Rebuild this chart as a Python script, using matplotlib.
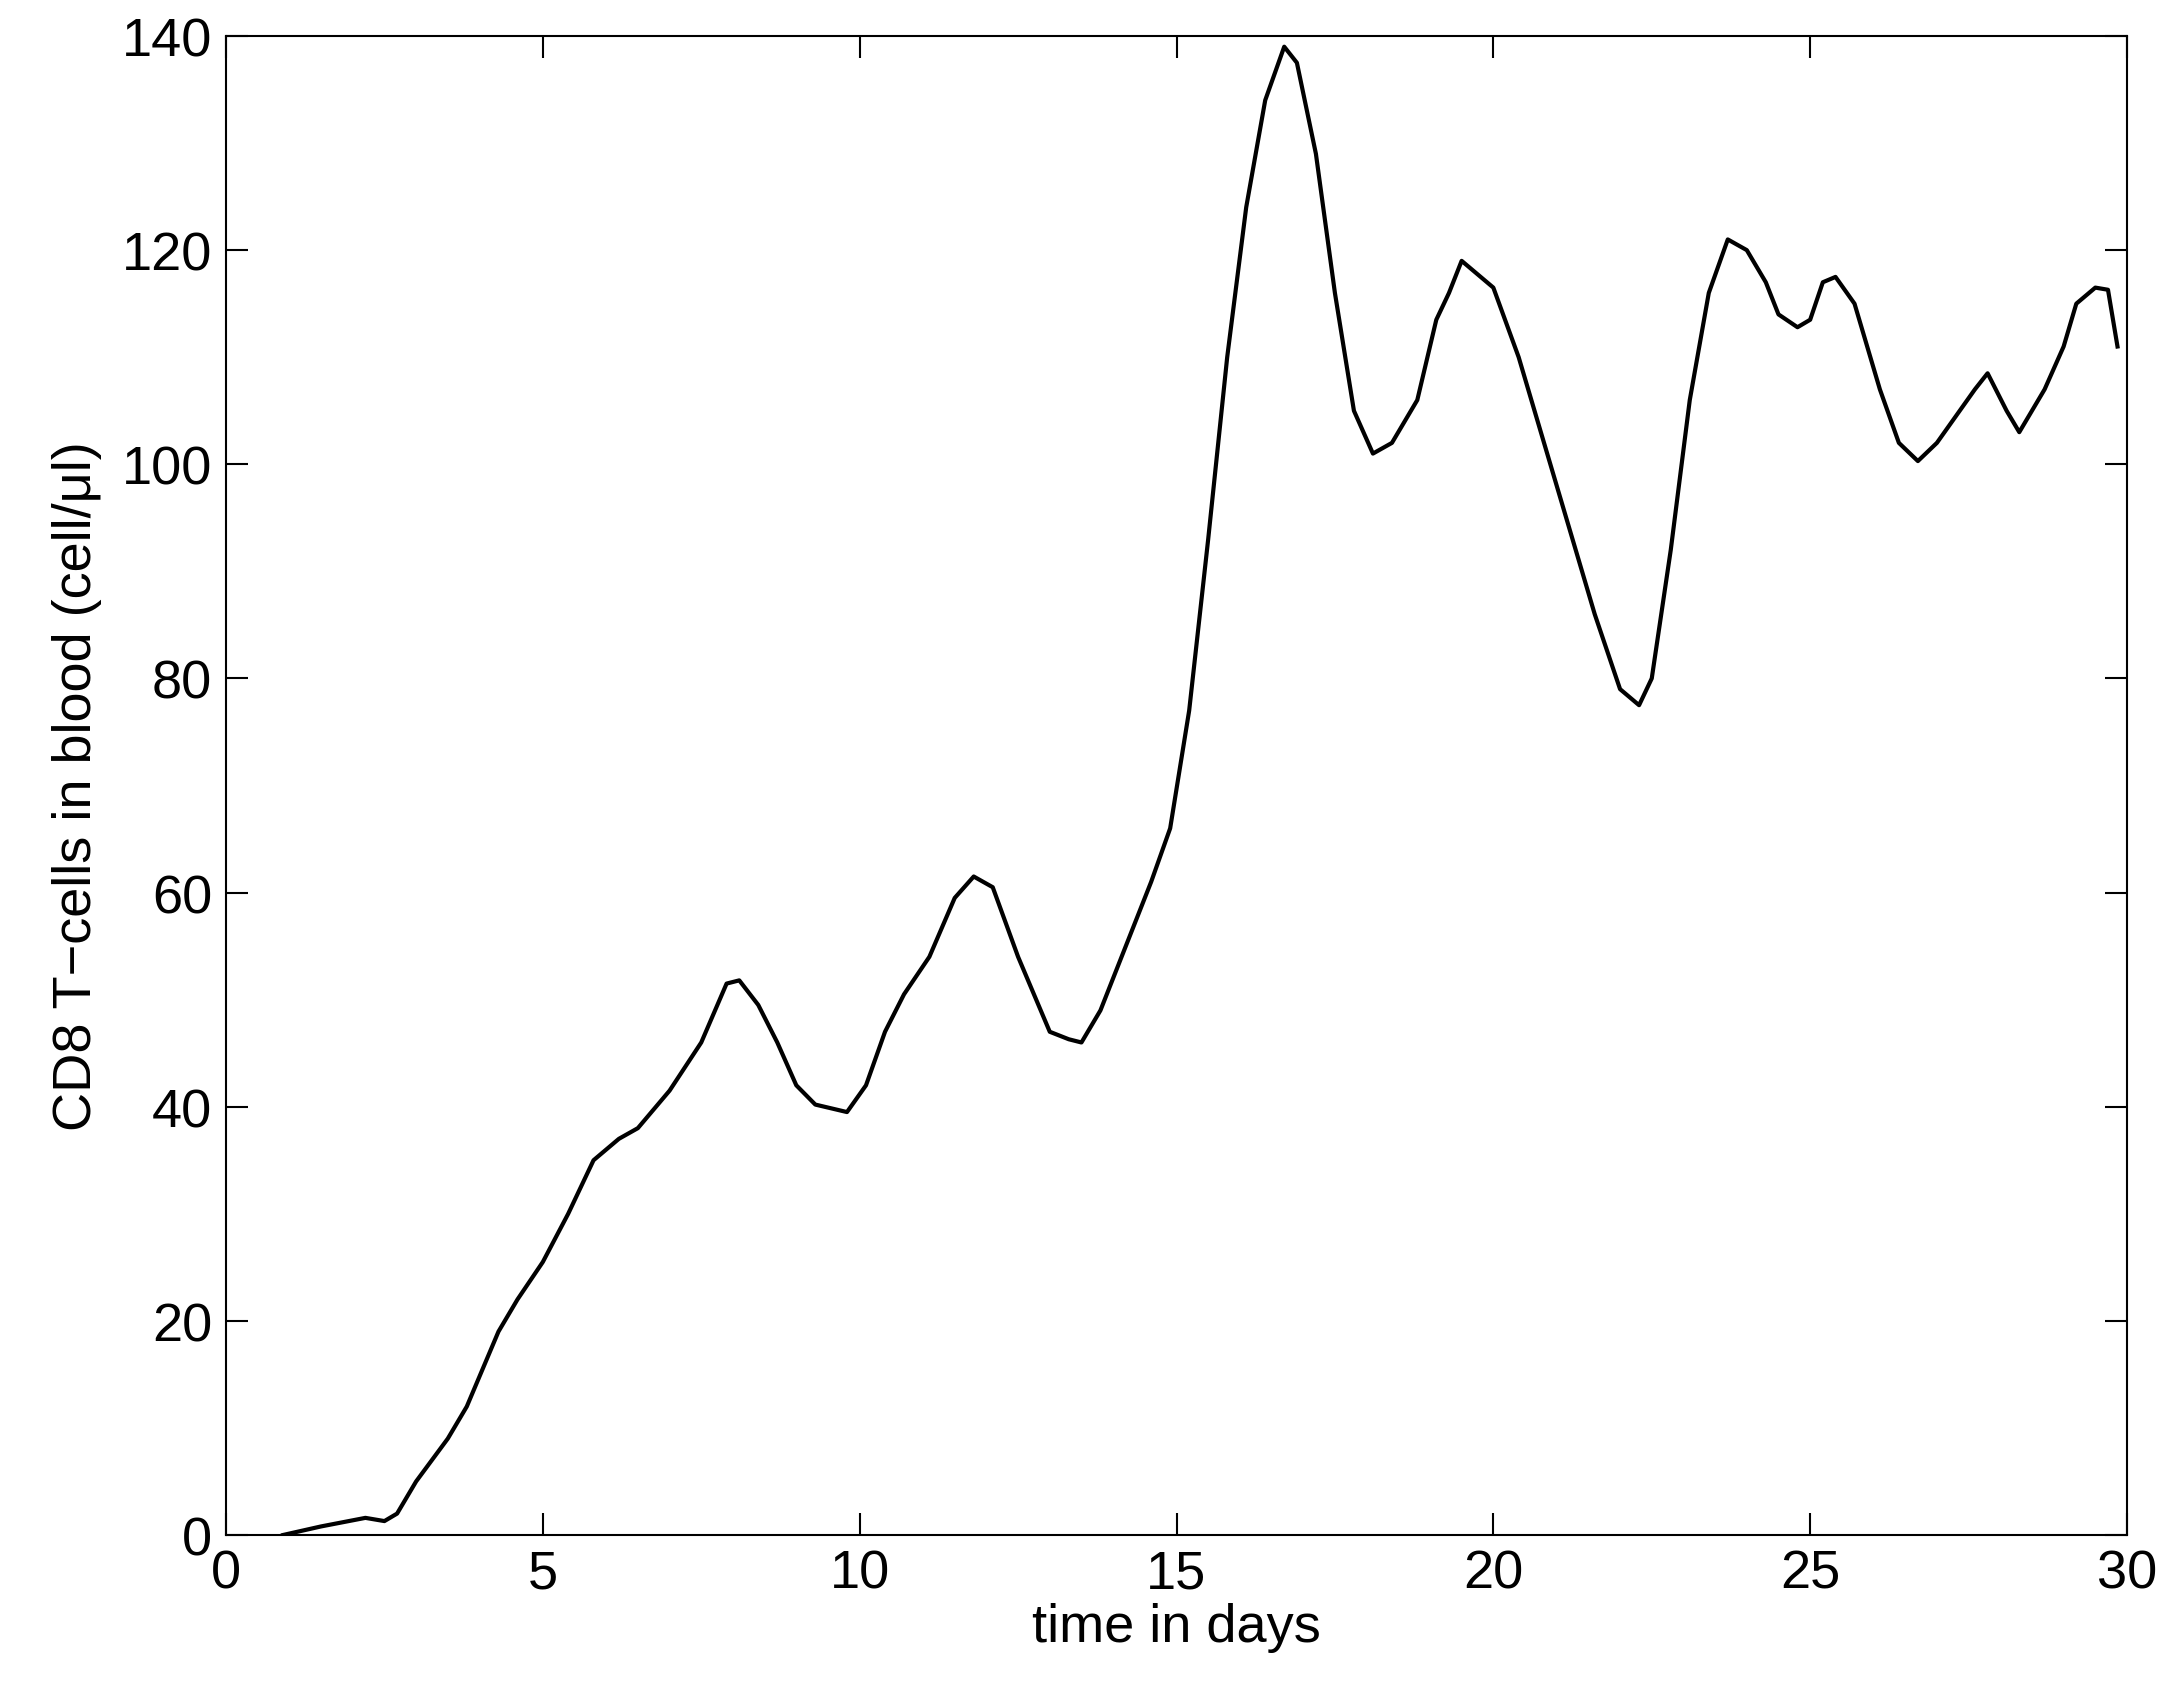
import matplotlib
matplotlib.use("Agg")
import matplotlib.pyplot as plt
import numpy as np

t = [0.9,1.5,2.2,2.5,2.7,3,3.5,3.8,4.3,4.6,5,5.4,5.8,6.2,6.5,7,7.5,7.9,8.1,8.4,8.7,9,9.3,9.8,10.1,10.4,10.7,11.1,11.5,11.8,12.1,12.5,13,13.3,13.5,13.8,14.2,14.6,14.9,15.2,15.5,15.8,16.1,16.4,16.7,16.9,17.2,17.5,17.8,18.1,18.4,18.8,19.1,19.3,19.5,19.7,20,20.4,20.8,21.2,21.6,22,22.3,22.5,22.8,23.1,23.4,23.7,24,24.3,24.5,24.8,25,25.2,25.4,25.7,26.1,26.4,26.7,27,27.3,27.6,27.8,28.1,28.3,28.7,29,29.2,29.5,29.7,29.85]
cd8 = [0,0.8,1.6,1.3,2,5,9,12,19,22,25.5,30,35,37,38,41.5,46,51.5,51.8,49.5,46,42,40.2,39.5,42,47,50.5,54,59.5,61.5,60.5,54,47,46.3,46,49,55,61,66,77,93,110,124,134,139,137.5,129,116,105,101,102,106,113.5,116,119,118,116.5,110,102,94,86,79,77.5,80,92,106,116,121,120,117,114,112.8,113.5,117,117.5,115,107,102,100.3,102,104.5,107,108.5,105,103,107,111,115,116.5,116.3,111]

plt.rcParams['font.family'] = ['Liberation Sans', 'DejaVu Sans']
fig = plt.figure(figsize=(21.77, 17.06), dpi=100)
ax = fig.add_axes([226/2177, 1-1536/1706, (2127-226)/2177, (1536-37)/1706])
ax.plot(t, cd8, color='black', lw=3, solid_joinstyle='round')
ax.set_xlim(0, 30)
ax.set_ylim(0, 140)
ax.set_xticks(range(0, 31, 5))
ax.set_yticks(range(0, 141, 20))
ax.tick_params(direction='in', top=True, right=True, labelsize=39, length=16, width=1.5, pad=10)
for s in ax.spines.values():
    s.set_linewidth(1.5)
ax.set_xlabel('time in days', fontsize=39, labelpad=2)
ax.set_ylabel('CD8 T\u2212cells in blood (cell/\u03bcl)', fontsize=39, labelpad=14)
fig.savefig('out.png', dpi=100)
